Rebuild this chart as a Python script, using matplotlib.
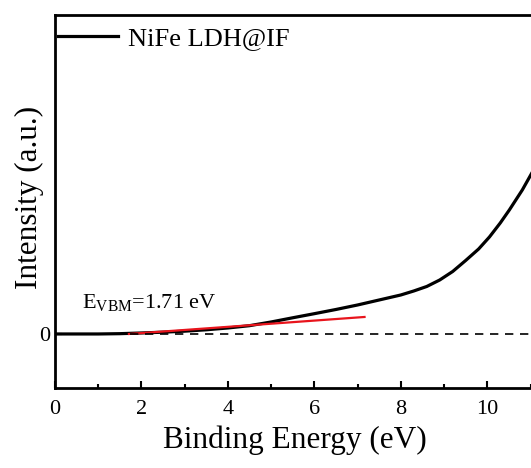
import matplotlib
matplotlib.use("Agg")
from matplotlib import pyplot as plt
from matplotlib.ticker import MultipleLocator

plt.rcParams["font.family"] = ["Liberation Serif", "DejaVu Serif"]
plt.rcParams["mathtext.fontset"] = "custom"
plt.rcParams["mathtext.rm"] = "Liberation Serif"
plt.rcParams["mathtext.it"] = "Liberation Serif:italic"

# VB-XPS spectrum, binding energy (eV) vs intensity (a.u.)
energy = [0.0, 0.5, 1.0, 1.5, 2.0, 2.5, 3.0, 3.5, 4.0, 4.5, 5.0, 5.5, 6.0,
          6.5, 7.0, 7.5, 8.0, 8.3, 8.6, 8.9, 9.2, 9.5, 9.8, 10.05, 10.3,
          10.51, 10.81, 11.07, 11.3]
intensity = [0.0, 0.0, 0.0, 0.003, 0.01, 0.018, 0.028, 0.042, 0.06, 0.083,
             0.12, 0.162, 0.203, 0.245, 0.29, 0.34, 0.39, 0.43, 0.475, 0.54,
             0.625, 0.735, 0.85, 0.97, 1.11, 1.24, 1.44, 1.64, 1.84]

# linear fit of the leading edge
fit_x = [1.71, 7.16]
fit_y = [0.0, 0.17]

fig = plt.figure(figsize=(5.31, 4.68), dpi=100)
ax = fig.add_axes([0.1036, 0.171, 0.902, 0.797])

ax.plot(energy, intensity, color="black", lw=2.3, label="NiFe LDH@IF")
ax.plot(fit_x, fit_y, color="#e8141c", lw=1.6)
ax.axhline(0, color="black", lw=1.2, ls=(0, (5, 4)))

ax.text(0.63, 0.31, r"E$_{\mathrm{VBM}}$=1.71 eV", fontsize=16, va="center", ha="left")

ax.set_xlim(0, 11.08)
ax.set_ylim(-0.54, 3.19)
ax.xaxis.set_major_locator(MultipleLocator(2))
ax.xaxis.set_minor_locator(MultipleLocator(1))
ax.set_yticks([0])
ax.tick_params(axis="both", which="major", direction="in", length=5, width=1.5, labelsize=16)
ax.tick_params(axis="x", which="major", pad=9)
ax.tick_params(axis="x", which="minor", direction="in", length=3, width=1.5)
for s in ax.spines.values():
    s.set_linewidth(2)
ax.spines["right"].set_visible(False)

ax.set_xlabel("Binding Energy (eV)", fontsize=22.5, labelpad=4)
ax.set_ylabel("Intensity (a.u.)", fontsize=22.5)
ax.yaxis.set_label_coords(-0.022, 0.512)

ax.legend(loc="upper left", bbox_to_anchor=(-0.019, 1.0), frameon=False,
          fontsize=19, handlelength=2.3, handletextpad=0.35,
          borderaxespad=0.35, borderpad=0.1)

fig.savefig("out.png", dpi=100)
